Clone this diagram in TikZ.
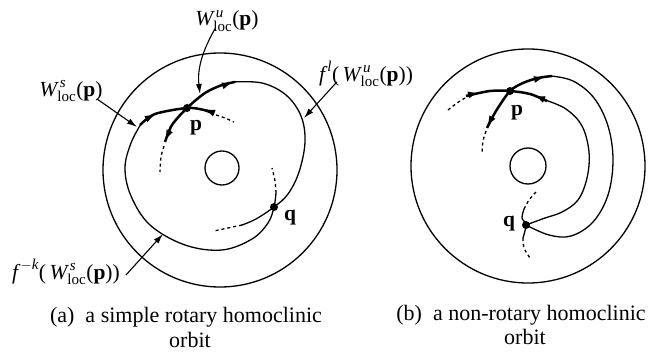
\documentclass[tikz,border=0pt]{standalone}
\usepackage{amsmath}
\usepackage{fontspec}
\setmainfont{Liberation Serif}
\usetikzlibrary{arrows.meta}
\tikzset{
  thinl/.style={line width=1.3pt},
  thickl/.style={line width=2.5pt},
  dashl/.style={line width=1.3pt, dash pattern=on 3pt off 3pt},
  headonly/.style={line width=1pt, -{Latex[length=10pt,width=7pt]}, shorten >=-1pt},
  lbl/.style={font=\fontsize{21.5}{24}\selectfont, inner sep=0pt},
  captxt/.style={font=\fontsize{22}{25}\selectfont, inner sep=0pt},
  ptarrow/.style={line width=1.1pt, -{Latex[length=10pt,width=6pt]}},
  dot/.style={circle, fill=black, inner sep=0pt, minimum size=8pt},
}
\newcommand{\Wl}[1]{\textit{W}^{\,\textit{#1}}_{\textup{loc}}\textup{(}\textbf{p}\textup{)}}
\begin{document}
\begin{tikzpicture}[x=1pt,y=-1pt]
\useasboundingbox (0,0) rectangle (655,358);

% ---------------- (a) ----------------
\draw[thinl] (220,170) circle (117);
\draw[thinl] (222,168) circle (17);

\coordinate (pa) at (187,108);
\coordinate (qa) at (274,207);

% inner loop f^{-k}(W^s)
\draw[thinl] plot[smooth,tension=0.6] coordinates {(141,124) (131,143) (125,168) (131,196) (150,225) (185,245) (222,250) (252,239) (268,223) (qa) (276,193)};
\draw[dashl] plot[smooth] coordinates {(276,193) (275,181) (272,168)};
% right loop f^l(W^u)
\draw[thinl] plot[smooth,tension=0.6] coordinates {(233,82) (262,83) (286,95) (301,116) (305,142) (299,172) (288,194) (qa) (256,219) (242,225)};
\draw[dashl] plot[smooth] coordinates {(242,225) (228,228) (214,231)};
% stable local
\draw[thickl] plot[smooth] coordinates {(140,125) (155,114) (pa) (204,110) (214,114)};
\draw[dashl] plot[smooth] coordinates {(216,115) (225,118) (234,122)};
% unstable local
\draw[thickl] plot[smooth] coordinates {(165,142) (172,125) (pa) (205,93) (222,85) (235,82)};
\draw[dashl] plot[smooth] coordinates {(164,146) (161,157) (160,172)};
% arrowheads
\coordinate (a1s) at (146,119); \coordinate (a1e) at (154,115);
\coordinate (a2s) at (214,113); \coordinate (a2e) at (206,109.5);
\coordinate (a3s) at (222,86);  \coordinate (a3e) at (231,83);
\coordinate (a4s) at (170,130); \coordinate (a4e) at (166,139);
\draw[headonly] (a1s) -- (a1e);
\draw[headonly] (a2s) -- (a2e);
\draw[headonly] (a3s) -- (a3e);
\draw[headonly] (a4s) -- (a4e);

\node[dot] at (pa) {};
\node[dot] at (qa) {};
\node[lbl] (pla) at (196,128) {\textbf{p}};
\node[lbl] (qla) at (290,218) {\textbf{q}};

\node[lbl] (wu) at (227,21) {$\Wl{u}$};
\coordinate (wuend) at (200,94);
\draw[ptarrow] ([xshift=-12pt,yshift=3pt]wu.south) .. controls (203,50) and (197,68) .. (wuend);

\node[lbl] (ws) at (71,91) {$\Wl{s}$};
\coordinate (wsend) at (137,127);
\draw[ptarrow] ([xshift=-6pt,yshift=3pt]ws.south east) -- (wsend);

\node[lbl] (fl) at (366,74) {$\textit{f}^{\,\textit{l}}\textup{(}\,\Wl{u}\textup{)}$};
\coordinate (flend) at (304,118);
\draw[ptarrow] ([xshift=18pt,yshift=5pt]fl.south west) -- (flend);

\node[lbl] (fk) at (66,272) {$\textit{f}^{\,-\textit{k}}\textup{(}\,\Wl{s}\textup{)}$};
\coordinate (fkend) at (163,234);
\draw[ptarrow] ([xshift=6pt,yshift=-3pt]fk.east) -- (fkend);

\node[captxt] (capa1) at (186,317) {(a)\enspace a simple rotary homoclinic};
\node[captxt] (capa2) at (190,340) {orbit};

% ---------------- (b) ----------------
\draw[thinl] (528,166) circle (117);
\draw[thinl] (528,166) circle (18);

\coordinate (pb) at (510,91);
\coordinate (qb) at (526,225);

% inner loop
\draw[thinl] plot[smooth,tension=0.6] coordinates {(545,100) (566,109) (582,126) (589,152) (587,178) (578,200) (562,212) (545,218) (qb)};
% middle loop
\draw[thinl] plot[smooth,tension=0.6] coordinates {(551,76) (573,81) (594,98) (608,126) (613,160) (608,195) (593,222) (571,236) (549,235) (qb)};
% stable local
\draw[dashl] plot[smooth] coordinates {(448,110) (457,103) (465,98)};
\draw[thickl] plot[smooth] coordinates {(466,96) (490,91) (pb) (530,94) (547,101)};
% unstable local
\draw[thickl] plot[smooth] coordinates {(487,128) (496,111) (pb) (523,83) (538,78) (552,76)};
\draw[dashl] plot[smooth] coordinates {(486,131) (483,141) (482,153)};
% arrowheads
\coordinate (b1s) at (468,95);  \coordinate (b1e) at (477,93);
\coordinate (b2s) at (544,99.5); \coordinate (b2e) at (536,96);
\coordinate (b3s) at (534,79.5);  \coordinate (b3e) at (543,77.5);
\coordinate (b4s) at (493,116); \coordinate (b4e) at (488,125);
\draw[headonly] (b1s) -- (b1e);
\draw[headonly] (b2s) -- (b2e);
\draw[headonly] (b3s) -- (b3e);
\draw[headonly] (b4s) -- (b4e);
% curve through q
\draw[dashl] plot[smooth] coordinates {(536,192) (529,200) (524,209)};
\draw[thinl] plot[smooth] coordinates {(524,209) (522,218) (qb) (523,238)};
\draw[dashl] plot[smooth] coordinates {(523,238) (524,248) (530,258)};

\node[dot] at (pb) {};
\node[dot] at (qb) {};
\node[lbl] (plb) at (517,113) {\textbf{p}};
\node[lbl] (qlb) at (509,224) {\textbf{q}};

\node[captxt] (capb1) at (521,315) {(b)\enspace a non-rotary homoclinic};
\node[captxt] (capb2) at (525,337) {orbit};
\end{tikzpicture}
\end{document}
